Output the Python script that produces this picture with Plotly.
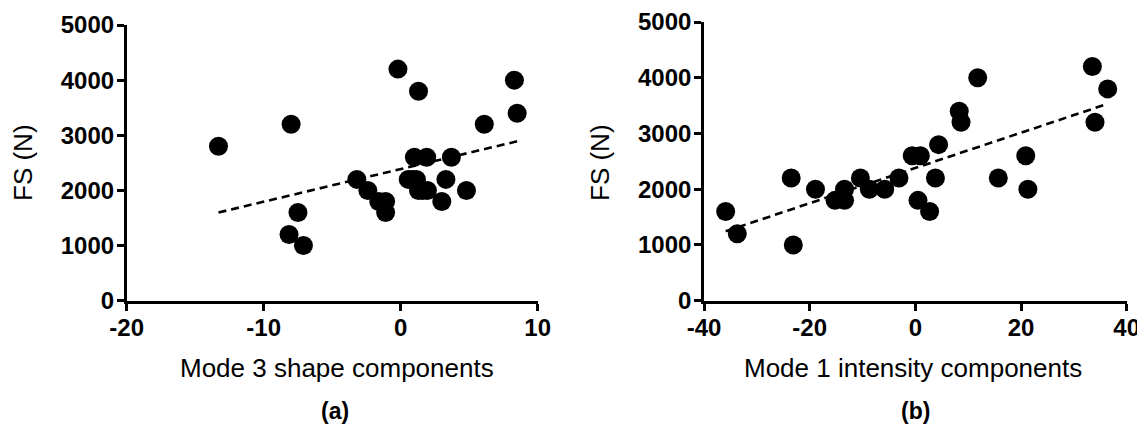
import numpy as np
import plotly.graph_objects as go
from plotly.subplots import make_subplots

# Panel (a): Mode 3 shape components vs FS (N)
shape_x = [-13.3, -8.0, -0.2, 1.3, 8.3, 8.5, 6.1, 1.0, 1.9, 3.7, -3.2, -2.4, -1.6, -1.1,
           -1.1, 0.55, 1.15, 1.3, 1.95, 3.3, 3.0, 4.8, -7.5, -8.15, -7.1, 0.85, 1.6]
shape_fs = [2800, 3200, 4200, 3800, 4000, 3400, 3200, 2600, 2600, 2600, 2200, 2000, 1800, 1800,
            1600, 2200, 2200, 2000, 2000, 2200, 1800, 2000, 1600, 1200, 1000, 2200, 2000]

# Panel (b): Mode 1 intensity components vs FS (N)
int_x = [-35.9, -33.7, -23.5, -23.1, -18.9, -15.2, -13.4, -13.4, -10.4, -8.7, -5.8, -3.1, -0.6,
         0.95, 0.5, 2.7, 3.8, 4.4, 8.3, 8.65, 11.8, 15.7, 20.9, 21.3, 33.5, 36.4, 34.0]
int_fs = [1600, 1200, 2200, 1000, 2000, 1800, 2000, 1800, 2200, 2000, 2000, 2200, 2600,
          2600, 1800, 1600, 2200, 2800, 3400, 3200, 4000, 2200, 2600, 2000, 4200, 3800, 3200]

y_ticks = [0, 1000, 2000, 3000, 4000, 5000]
y_ticktext = ["0", "1000", "2000", "3000", "4000", "5000"]
a_xticks = [-20, -10, 0, 10]
a_xticktext = ["-20", "-10", "0", "10"]
b_xticks = [-40, -20, 0, 20, 40]
b_xticktext = ["-40", "-20", "0", "20", "40"]

# page body has an 8px default margin; work in page pixels and shift
OFF = 8
W, H = 1145 - OFF, 432 - OFF
FONT = "Liberation Sans, Arial, Helvetica, sans-serif"

def px(x):
    return (x - OFF) / W

def py(y):
    return 1 - (y - OFF) / H

def fit_line(x, y):
    m, c = np.polyfit(x, y, 1)
    xs = np.array([min(x), max(x)])
    return xs, m * xs + c

fig = make_subplots(rows=1, cols=2)

for col, (xs, ys) in enumerate([(shape_x, shape_fs), (int_x, int_fs)], start=1):
    lx, ly = fit_line(xs, ys)
    fig.add_trace(go.Scatter(x=lx, y=ly, mode="lines",
                             line=dict(color="black", width=2.6, dash="8px,5px"),
                             showlegend=False, hoverinfo="skip"), row=1, col=col)
    fig.add_trace(go.Scatter(x=xs, y=ys, mode="markers",
                             marker=dict(color="black", size=19, line=dict(width=0)),
                             showlegend=False, cliponaxis=False), row=1, col=col)

axis_common = dict(showline=True, linecolor="black", linewidth=2.6, ticks="outside",
                   ticklen=7, tickwidth=2.6, tickcolor="black", showgrid=False,
                   zeroline=False, automargin=False, ticklabeloverflow="allow",
                   tickfont=dict(family=FONT, size=24, color="black", weight="bold"))

fig.update_layout(
    width=W, height=H, margin=dict(l=0, r=0, t=0, b=0),
    paper_bgcolor="white", plot_bgcolor="white",
    xaxis=dict(domain=[px(126.7), px(537.7)], range=[-20, 10], tickvals=a_xticks,
               ticktext=a_xticktext, ticklabelstandoff=-3, **axis_common),
    yaxis=dict(domain=[py(300.7), py(25)], range=[0, 5000], tickvals=y_ticks,
               ticktext=y_ticktext, ticklabelstandoff=-2, **axis_common),
    xaxis2=dict(domain=[px(704), px(1126.7)], range=[-40, 40], tickvals=b_xticks,
                ticktext=b_xticktext, ticklabelstandoff=-3, **axis_common),
    yaxis2=dict(domain=[py(300.7), py(22)], range=[0, 5000], tickvals=y_ticks,
                ticktext=y_ticktext, ticklabelstandoff=-2, **axis_common),
)

def ann(text, x, y, size=26, bold=False, angle=0):
    fig.add_annotation(text=text, x=px(x), y=py(y), xref="paper", yref="paper",
                       showarrow=False, textangle=angle, xanchor="center", yanchor="middle",
                       font=dict(family=FONT, size=size, color="black",
                                 weight="bold" if bold else "normal"))

ann("FS (N)", 23, 163, angle=-90)
ann("FS (N)", 600, 163, angle=-90)
ann("Mode 3 shape components", 337, 368)
ann("Mode 1 intensity components", 913, 368)
ann("(a)", 335, 411, size=23, bold=True)
ann("(b)", 915, 411, size=23, bold=True)

fig.write_html("out.html")
